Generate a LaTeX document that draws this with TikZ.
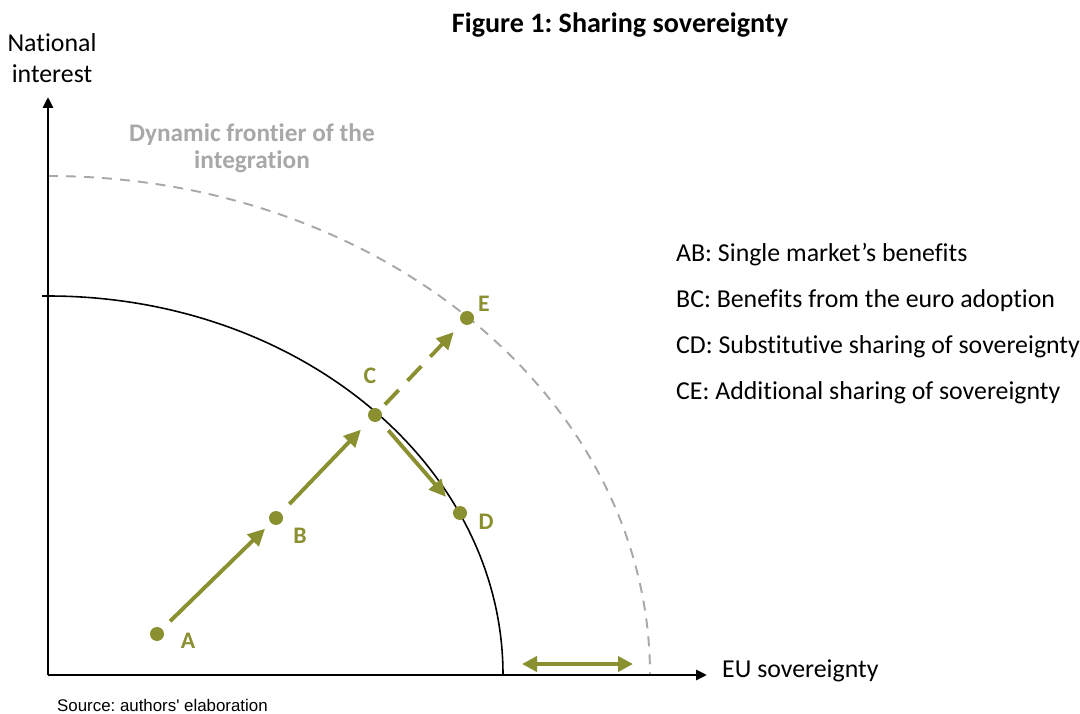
\documentclass[tikz,border=0pt]{standalone}
\usepackage{fontspec}
\setmainfont{Carlito}[Ligatures=NoCommon]
\newfontfamily\srcfont{Liberation Sans}
\usepackage{tikz}
\usetikzlibrary{arrows.meta}
\definecolor{olive}{RGB}{138,143,48}
\definecolor{frontgray}{RGB}{168,168,168}
\frenchspacing

\tikzset{
  pt/.style={circle, fill=olive, inner sep=0pt, minimum size=0.28cm},
  ptlabel/.style={text=olive, font=\fontsize{13.5}{15}\selectfont\bfseries},
  move/.style={olive, line width=2.2pt, -{Triangle[length=0.34cm,width=0.32cm]}},
  legend/.style={anchor=west, font=\fontsize{14.7}{17}\selectfont}
}

\begin{document}
\begin{tikzpicture}
      \useasboundingbox (-0.96, -0.76) rectangle (20.64, 13.5);
      % frontiers
      \draw[frontgray, line width=1.1pt, dash pattern=on 0.2cm off 0.16cm] (0, 9.98) arc[start angle=90, end angle=0, x radius=12.04, y radius=9.98];
      \draw[line width=0.9pt] (0, 7.58) arc[start angle=90, end angle=0, x radius=9.1, y radius=7.58];
      \draw[line width=0.9pt] (-0.12, 7.58) -- (0, 7.58);
      % axes
      \draw[line width=1.6pt, -{Triangle[length=0.22cm,width=0.2cm]}] (0, 0) -- (0, 11.56);
      \draw[line width=1.6pt, -{Triangle[length=0.22cm,width=0.2cm]}] (0, 0) -- (13.18, 0);
      \node[align=center, font=\fontsize{14.7}{17.5}\selectfont] (yl) at (0.08, 12.33) {National\\interest};
      \node[anchor=west, font=\fontsize{14.7}{17}\selectfont] (xl) at (13.36, 0.08) {EU sovereignty};
      \node[font=\fontsize{16}{18}\selectfont\bfseries] (title) at (11.44, 13.0) {Figure 1: Sharing sovereignty};
      \node[align=center, text=frontgray, font=\fontsize{14.4}{15.5}\selectfont\bfseries] (front) at (4.08, 10.54) {Dynamic frontier of the\\integration};
      \node[anchor=west, font=\fontsize{9.6}{11}\srcfont] (src) at (0.06, -0.6) {Source: authors' elaboration};
      % points
      \node[pt] (A) at (2.18, 0.82) {};
      \node[pt] (B) at (4.56, 3.14) {};
      \node[pt] (C) at (6.54, 5.20) {};
      \node[pt] (D) at (8.24, 3.24) {};
      \node[pt] (E) at (8.38, 7.14) {};
      \node[ptlabel] (lA) at (2.8, 0.68) {A};
      \node[ptlabel] (lB) at (5.04, 2.78) {B};
      \node[ptlabel] (lC) at (6.44, 5.98) {C};
      \node[ptlabel] (lD) at (8.76, 3.06) {D};
      \node[ptlabel] (lE) at (8.72, 7.42) {E};
      \draw[move, shorten <=0.22cm, shorten >=0.16cm] (A) -- (B);
      \draw[move, shorten <=0.24cm, shorten >=0.26cm] (B) -- (C);
      \draw[move, shorten <=0.26cm, shorten >=0.28cm] (C) -- (D);
      \draw[move, dash pattern=on 0.4cm off 0.26cm, shorten <=0.14cm, shorten >=0.24cm] (C) -- (E);
      \coordinate (g1) at (9.48, 0.22);
      \coordinate (g2) at (11.7, 0.22);
      \draw[olive, line width=2.2pt, {Triangle[length=0.3cm,width=0.3cm]}-{Triangle[length=0.3cm,width=0.3cm]}] (g1) -- (g2);
      % legend
      \node[legend] (ab) at (12.44, 8.4) {AB: Single market’s benefits};
      \node[legend] (bc) at (12.44, 7.48) {BC: Benefits from the euro adoption};
      \node[legend] (cd) at (12.44, 6.56) {CD: Substitutive sharing of sovereignty};
      \node[legend] (ce) at (12.44, 5.64) {CE: Additional sharing of sovereignty};
    \end{tikzpicture}
\end{document}
